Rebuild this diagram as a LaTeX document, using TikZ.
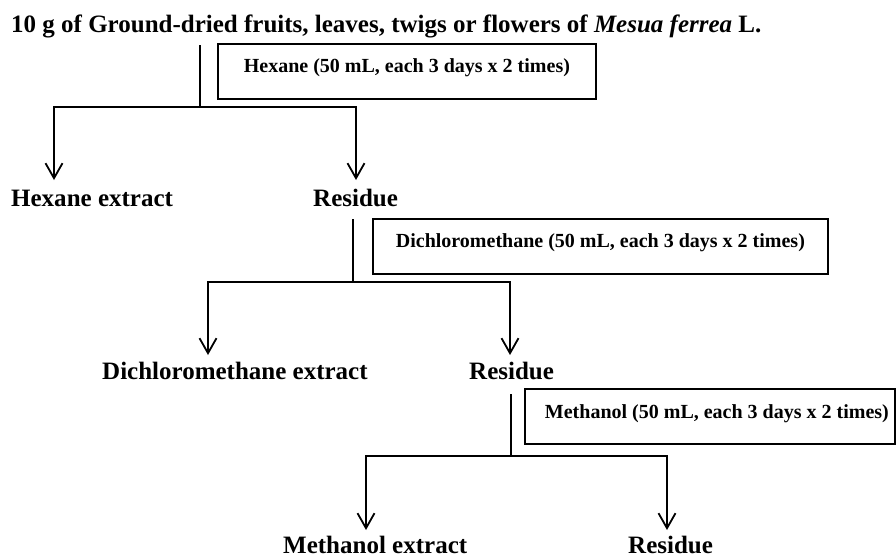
\documentclass[tikz,border=0pt]{standalone}
\usepackage{fontspec}
\setmainfont{Liberation Serif}
\usetikzlibrary{arrows.meta}
\begin{document}
\begin{tikzpicture}[x=1pt,y=-1pt,
  line/.style={line width=1.8pt},
  arr/.style={line width=1.8pt,-{Straight Barb[length=15pt,width=17pt]}},
  big/.style={font=\fontsize{25}{30}\selectfont\bfseries, inner sep=0pt, anchor=base west},
  solv/.style={draw, line width=1.8pt, font=\fontsize{20}{24}\selectfont\bfseries,
    inner xsep=0pt, inner ysep=0pt, text height=29pt, text depth=26pt, anchor=north west}]
\useasboundingbox (0,0) rectangle (896,557);

\node[big] (title) at (11,32) {10 g of Ground-dried fruits, leaves, twigs or flowers of \textit{Mesua ferrea} L.};
\node[solv, minimum width=378pt] (hexbox) at (217,43) {Hexane (50 mL, each 3 days x 2 times)};
\node[big] (hexext) at (11,206) {Hexane extract};
\node[big] (res1) at (313,206) {Residue};

\node[solv, minimum width=455pt] (dcmbox) at (372,218) {Dichloromethane (50 mL, each 3 days x 2 times)};
\node[big] (dcmext) at (102,379) {Dichloromethane extract};
\node[big] (res2) at (469,379) {Residue};

\node[solv, minimum width=370pt, text height=30pt, text depth=25pt] (mebox) at (524,388) {\hspace*{14pt}Methanol (50 mL, each 3 days x 2 times)};
\node[big] (meext) at (283,553) {Methanol extract};
\node[big] (res3) at (628,553) {Residue};

\coordinate (s1) at (200,45);
\coordinate (j1) at (200,107);
\coordinate (a1) at (54,180);
\coordinate (b1) at (356,180);
\coordinate (s2) at (353,219);
\coordinate (j2) at (353,282);
\coordinate (a2) at (208,355);
\coordinate (b2) at (510,355);
\coordinate (s3) at (511,394);
\coordinate (j3) at (511,456);
\coordinate (a3) at (366,530);
\coordinate (b3) at (667,530);

\draw[line] (s1) -- (j1);
\draw[arr] (j1) -| (a1);
\draw[arr] (j1) -| (b1);
\draw[line] (s2) -- (j2);
\draw[arr] (j2) -| (a2);
\draw[arr] (j2) -| (b2);
\draw[line] (s3) -- (j3);
\draw[arr] (j3) -| (a3);
\draw[arr] (j3) -| (b3);
\end{tikzpicture}
\end{document}
